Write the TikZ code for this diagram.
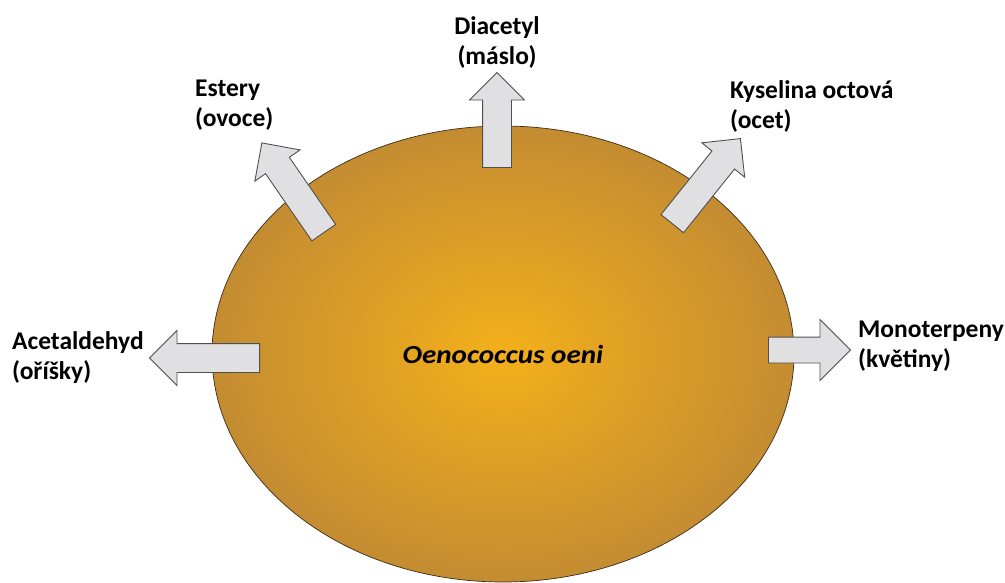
\documentclass[tikz,border=0pt]{standalone}
\usepackage{fontspec}
\setmainfont{Carlito}
\newfontfamily\cellfont[FakeStretch=1.12]{Carlito}
\usetikzlibrary{positioning,shapes.geometric,shapes.arrows}
\definecolor{cellinner}{RGB}{244,176,26}
\definecolor{cellouter}{RGB}{196,140,50}
\definecolor{cellline}{RGB}{60,45,25}
\definecolor{arrowfill}{RGB}{224,224,226}
\definecolor{arrowline}{RGB}{80,80,80}

\begin{document}
\begin{tikzpicture}[x=1pt, y=-1pt,
    outarrow/.style={draw=arrowline, fill=arrowfill, line width=0.9pt, single arrow,
        inner xsep=0pt, inner ysep=14pt, single arrow head extend=13pt, anchor=tail},
    product/.style={font=\fontsize{25.5}{30}\selectfont\bfseries, align=left, inner sep=0pt}]
    \useasboundingbox (0,0) rectangle (1005,583);

    % Bacterium
    \node[ellipse, draw=cellline, line width=0.7pt, inner color=cellinner, outer color=cellouter,
        minimum width=582pt, minimum height=456pt, inner sep=0pt,
        font=\cellfont\fontsize{26}{30}\selectfont\bfseries\itshape] (cell) at (503,354) {Oenococcus oeni};

    % Products
    \node[outarrow, minimum height=110pt, rotate=180] (acet) at (260,358) {};
    \node[outarrow, minimum height=82pt, inner ysep=12.5pt,
        single arrow head extend=17.5pt] (mono) at (768,350) {};
    \node[outarrow, minimum height=95pt, rotate=90] (dia) at (497,168) {};
    \node[outarrow, minimum height=109pt, rotate=124.6] (est) at (324,233) {};
    \node[outarrow, minimum height=109pt, rotate=51.3] (kys) at (672,224) {};

    % Labels
    \node[product, align=center, above=3pt of dia.tip] (diaT) {Diacetyl\\(máslo)};
    \node[product, anchor=west] (estT) at (195,105) {Estery\\(ovoce)};
    \node[product, anchor=west] (kysT) at (730,106) {Kyselina octová\\(ocet)};
    \node[product, anchor=west] (acetT) at (12,358) {Acetaldehyd\\(oříšky)};
    \node[product, anchor=west] (monoT) at (858,346) {Monoterpeny\\(květiny)};
\end{tikzpicture}
\end{document}
